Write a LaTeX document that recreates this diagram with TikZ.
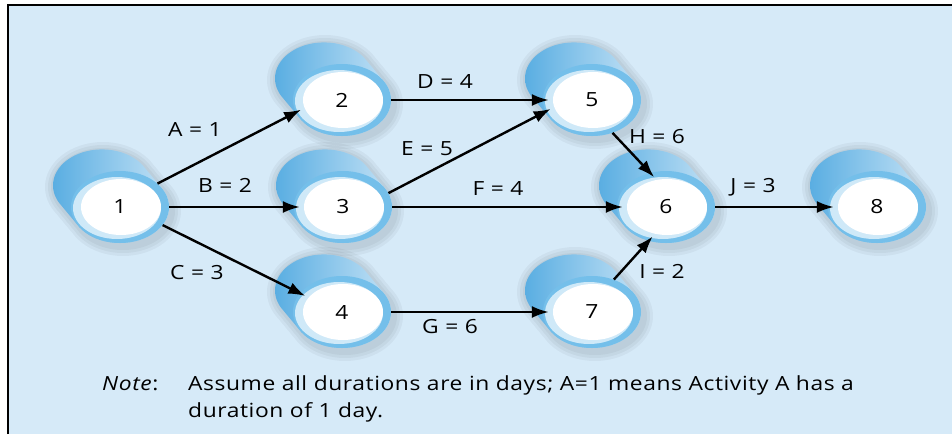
\documentclass[tikz,border=0pt]{standalone}
\usepackage{fontspec}
\setmainfont{Open Sans}[FakeStretch=1.17, LetterSpace=3]
\usetikzlibrary{arrows.meta,shapes.geometric}
\definecolor{panel}{HTML}{D6EAF8}
\definecolor{cyldark}{HTML}{5AAEE2}
\definecolor{cyllight}{HTML}{C2E1F5}
\definecolor{ring}{HTML}{74BFEA}
\definecolor{pale}{HTML}{CFE9F8}
\tikzset{
  evt/.style={ellipse, minimum width=98pt, minimum height=72pt, inner sep=0pt,
    font=\fontsize{19.5}{27}\selectfont},
  act/.style={-{Latex[length=17pt,width=12pt]}, line width=2.4pt, shorten >=-6pt},
  lbl/.style={anchor=base, inner sep=0pt, font=\fontsize{19.5}{27}\selectfont},
}
% one event: shadow, tilted cylinder, ring and white face
\newcommand{\evnode}[4]{%
  \foreach \r in {6,3,0}
    {\fill[black, opacity=0.04] \foreach \s in {0,0.25,...,1}
      {(#2-20*\s+3, #3-24*\s+4) ellipse [x radius={(52+\r)*1pt}, y radius={(39+\r)*1pt}]};}
  \shade[left color=cyldark, right color=cyllight] \foreach \s in {0,0.1,...,1}
    {(#2-20*\s, #3-24*\s) ellipse [x radius=49pt, y radius=36pt]};
  \fill[ring] (#2,#3) ellipse [x radius=49pt, y radius=36pt];
  \fill[pale] (#2-3,#3+1) ellipse [x radius=44pt, y radius=31pt];
  \fill[white] (#2+1,#3) ellipse [x radius=40pt, y radius=28pt];
  \node[evt] (n#1) at (#2,#3) {#4};
}

\begin{document}
\begin{tikzpicture}[x=1pt, y=-1pt]
  \useasboundingbox (0,0) rectangle (952,434);
  \fill[panel] (8,5) rectangle (952,434);
  \draw[line width=2pt] (8,434) -- (8,5) -- (952,5);

  \foreach \n/\x/\y in {1/120/207, 2/342/100, 3/343/207, 4/342/312,
                        5/592/100, 6/666/207, 7/592/312, 8/877/207}
    {\evnode{\n}{\x}{\y}{\n}}

  \foreach \a/\b in {n1.32/n2.195, n1.east/n3.west, n1.-23/n4.156,
                     n2.east/n5.west, n3.17/n5.194, n3.east/n6.west,
                     n4.east/n7.west, n5.-58/n6.115, n7.56/n6.243, n6.east/n8.west}
    \draw[act] (\a) -- (\b);

  \node[lbl] (la) at (195,136) {A = 1};
  \node[lbl] (lb) at (225,192) {B = 2};
  \node[lbl] (lc) at (197,279) {C = 3};
  \node[lbl] (ld) at (445,88) {D = 4};
  \node[lbl] (le) at (427,155) {E = 5};
  \node[lbl] (lf) at (498,195) {F = 4};
  \node[lbl] (lg) at (450,333) {G = 6};
  \node[lbl] (lh) at (657,143) {H = 6};
  \node[lbl] (li) at (662,278) {I = 2};
  \node[lbl] (lj) at (753,192) {J = 3};

  \node[lbl, anchor=base west] (note) at (102,390) {\textit{Note}:};
  \node[lbl, anchor=base west, align=left] (text) at (188,417)
    {Assume all durations are in days; A=1 means Activity A has a\\duration of 1 day.};
\end{tikzpicture}
\end{document}
